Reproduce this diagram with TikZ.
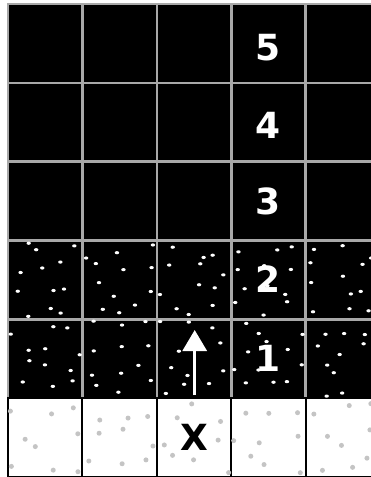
\documentclass[tikz,border=0pt]{standalone}
\usepackage{fontspec}
\setmainfont{DejaVu Sans}
\usetikzlibrary{arrows.meta,calc}
\definecolor{gridgray}{HTML}{A8A8A8}
\definecolor{dotgray}{HTML}{C4C4C4}
\tikzset{
  darkcell/.style={draw=gridgray, line width=2.6pt, fill=black, minimum width=74.4pt, minimum height=78.8pt, inner sep=0pt, outer sep=0pt},
  lightcell/.style={draw=black, line width=2pt, fill=white, minimum width=74.4pt, minimum height=78.8pt, inner sep=0pt, outer sep=0pt},
  wdot/.style={fill=white, draw=none},
  gdot/.style={fill=dotgray, draw=none},
  bignum/.style={font=\fontsize{36}{36}\selectfont\bfseries, inner sep=0pt},
}
\begin{document}
\begin{tikzpicture}[x=1pt,y=-1pt]
\useasboundingbox (0,0) rectangle (371,477);
\fill[white] (0,0) rectangle (371,477);
\begin{scope}
\clip (0,0) rectangle (371,477);
% cells: row r = 0..5 (top to bottom), column c = 1..5
\foreach \r in {0,...,4}{
  \foreach \c in {1,...,5}{
    \node[darkcell] (cell-\r-\c) at ({8+74.4*(\c-1)+37.2},{4+78.8*\r+39.4}) {};
  }
}
\foreach \c in {1,...,5}{
  \node[lightcell] (cell-5-\c) at ({8+74.4*(\c-1)+37.2},{4+78.8*5+39.4}) {};
}
% dots (jittered grid)
\pgfmathsetseed{4711}
\foreach \r in {3,4}{
  \foreach \c in {1,...,5}{
    \foreach \i in {0,1,2}{
      \foreach \j in {0,1,2,3}{
        \pgfmathsetmacro{\dx}{-37.2+(\i+0.5)*24.8+10*rand}
        \pgfmathsetmacro{\dy}{-39.4+(\j+0.5)*19.7+8*rand}
        \fill[wdot] ($(cell-\r-\c.center)+(\dx,\dy)$) ellipse[x radius=2.2pt, y radius=1.6pt];
      }
    }
  }
}
\foreach \c in {1,...,5}{
  \foreach \i in {0,1,2}{
    \foreach \j in {0,1,2}{
      \pgfmathsetmacro{\dx}{-37.2+(\i+0.5)*24.8+10*rand}
      \pgfmathsetmacro{\dy}{-39.4+(\j+0.5)*26.3+11*rand}
      \fill[gdot] ($(cell-5-\c.center)+(\dx,\dy)$) circle[radius=2.5pt];
    }
  }
}
\end{scope}
% labels
\node[bignum, text=white] (l5) at (268,48) {5};
\node[bignum, text=white] (l4) at (268,125) {4};
\node[bignum, text=white] (l3) at (268,201) {3};
\node[bignum, text=white] (l2) at (268,279) {2};
\node[bignum, text=white] (l1) at (268,358) {1};
\node[bignum, text=black] (lx) at (194.5,437.5) {X};
% arrow
\coordinate (arrS) at (194.7,395);
\coordinate (arrE) at (194.7,330);
\draw[white, line width=3pt, -{Triangle[width=24pt,length=21pt]}] (arrS) -- (arrE);
\end{tikzpicture}
\end{document}
